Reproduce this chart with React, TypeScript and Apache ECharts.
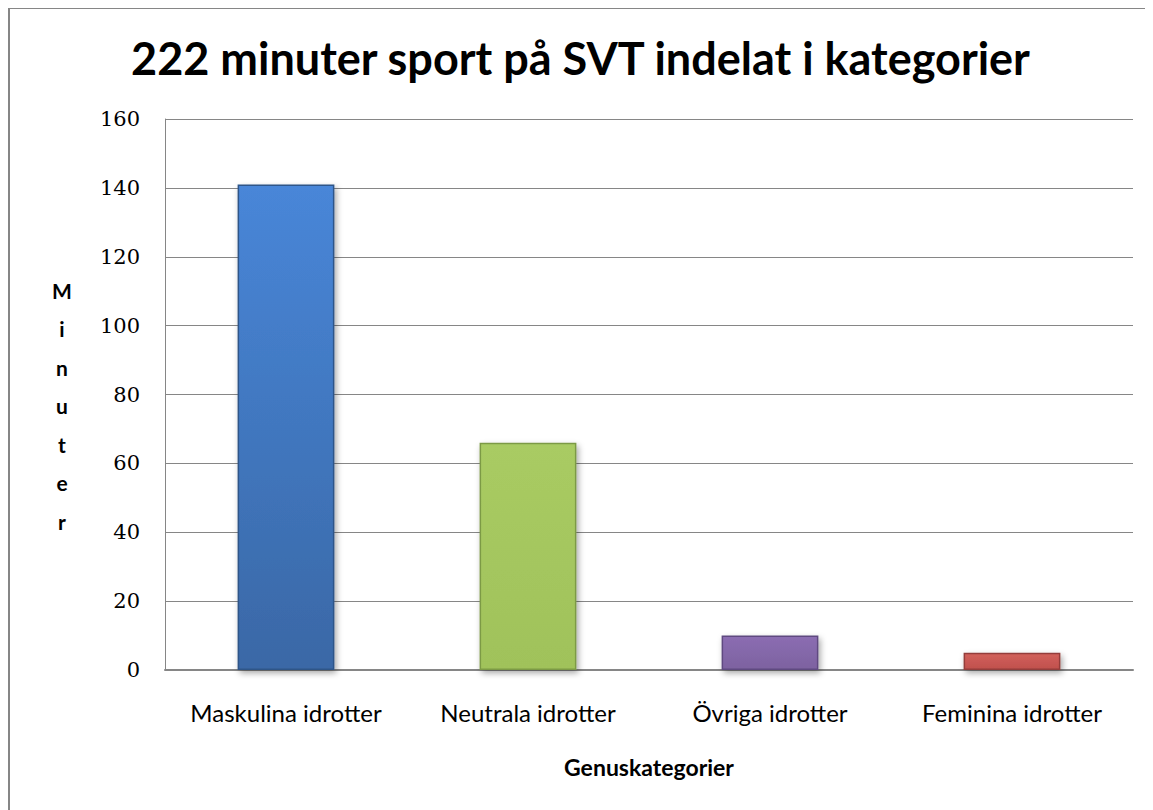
import React, { useEffect, useRef } from "react";
import * as echarts from "echarts";

const categories = ["Maskulina idrotter", "Neutrala idrotter", "Övriga idrotter", "Feminina idrotter"];
const values = [141, 66, 10, 5];
const barTop = ["#4886d8", "#a9cb63", "#8b6db2", "#d2615b"];
const barBottom = ["#3a68a6", "#a0c25a", "#7d62a0", "#c0504d"];
const barBorder = ["#2f5588", "#7c9a45", "#5f4a80", "#943c3a"];
const titleText = "222 minuter sport på SVT indelat i kategorier";
const yName = "Minuter";
const xName = "Genuskategorier";

export default function App() {
  const ref = useRef<HTMLDivElement>(null);
  useEffect(() => {
    const chart = echarts.init(ref.current!, null, { renderer: "svg" });
    chart.setOption({
      animation: false,
      backgroundColor: "#ffffff",
      title: {
        text: titleText,
        left: "center",
        top: 22,
        textStyle: { fontFamily: "Lato", fontWeight: "bold", fontSize: 45, color: "#000" },
      },
      grid: { left: 157, right: 20, top: 111, bottom: 140 },
      xAxis: {
        type: "category",
        data: categories,
        axisLine: { lineStyle: { color: "#868686", width: 2 } },
        axisTick: { show: false },
        axisLabel: { interval: 0, fontFamily: "Lato", fontSize: 24, color: "#000", margin: 30 },
        name: xName,
        nameLocation: "middle",
        nameGap: 85,
        nameTextStyle: { fontFamily: "Lato", fontWeight: "bold", fontSize: 23, color: "#000" },
      },
      yAxis: {
        type: "value",
        min: 0,
        max: 160,
        interval: 20,
        axisLine: { show: true, lineStyle: { color: "#868686", width: 1 } },
        axisTick: { show: false },
        splitLine: { lineStyle: { color: "#868686", width: 1 } },
        axisLabel: { fontFamily: "DejaVu Serif", fontSize: 21, color: "#000", margin: 25 },
      },
      graphic: [
        {
          type: "polyline",
          shape: { points: [[1, 802], [1, 0], [1145, 0]] },
          style: { fill: "none", stroke: "#868686", lineWidth: 2 },
          silent: true,
        },
        {
          type: "text",
          x: 54,
          y: 263,
          style: {
            text: yName.split("").join("\n"),
            fontFamily: "Lato",
            fontWeight: "bold",
            fontSize: 21,
            lineHeight: 38.5,
            align: "center",
            fill: "#000",
          },
        },
      ],
      series: [
        {
          type: "bar",
          barWidth: "40%",
          data: values.map((v, i) => ({
            value: v,
            itemStyle: {
              color: new echarts.graphic.LinearGradient(0, 0, 0, 1, [
                { offset: 0, color: barTop[i] },
                { offset: 1, color: barBottom[i] },
              ]),
              borderColor: barBorder[i],
              borderWidth: 1.5,
              shadowColor: "rgba(0,0,0,0.35)",
              shadowBlur: 6,
              shadowOffsetX: 2,
              shadowOffsetY: 3,
            },
          })),
        },
      ],
    });
    return () => chart.dispose();
  }, []);
  return <div ref={ref} style={{ width: 1145, height: 802 }} />;
}
